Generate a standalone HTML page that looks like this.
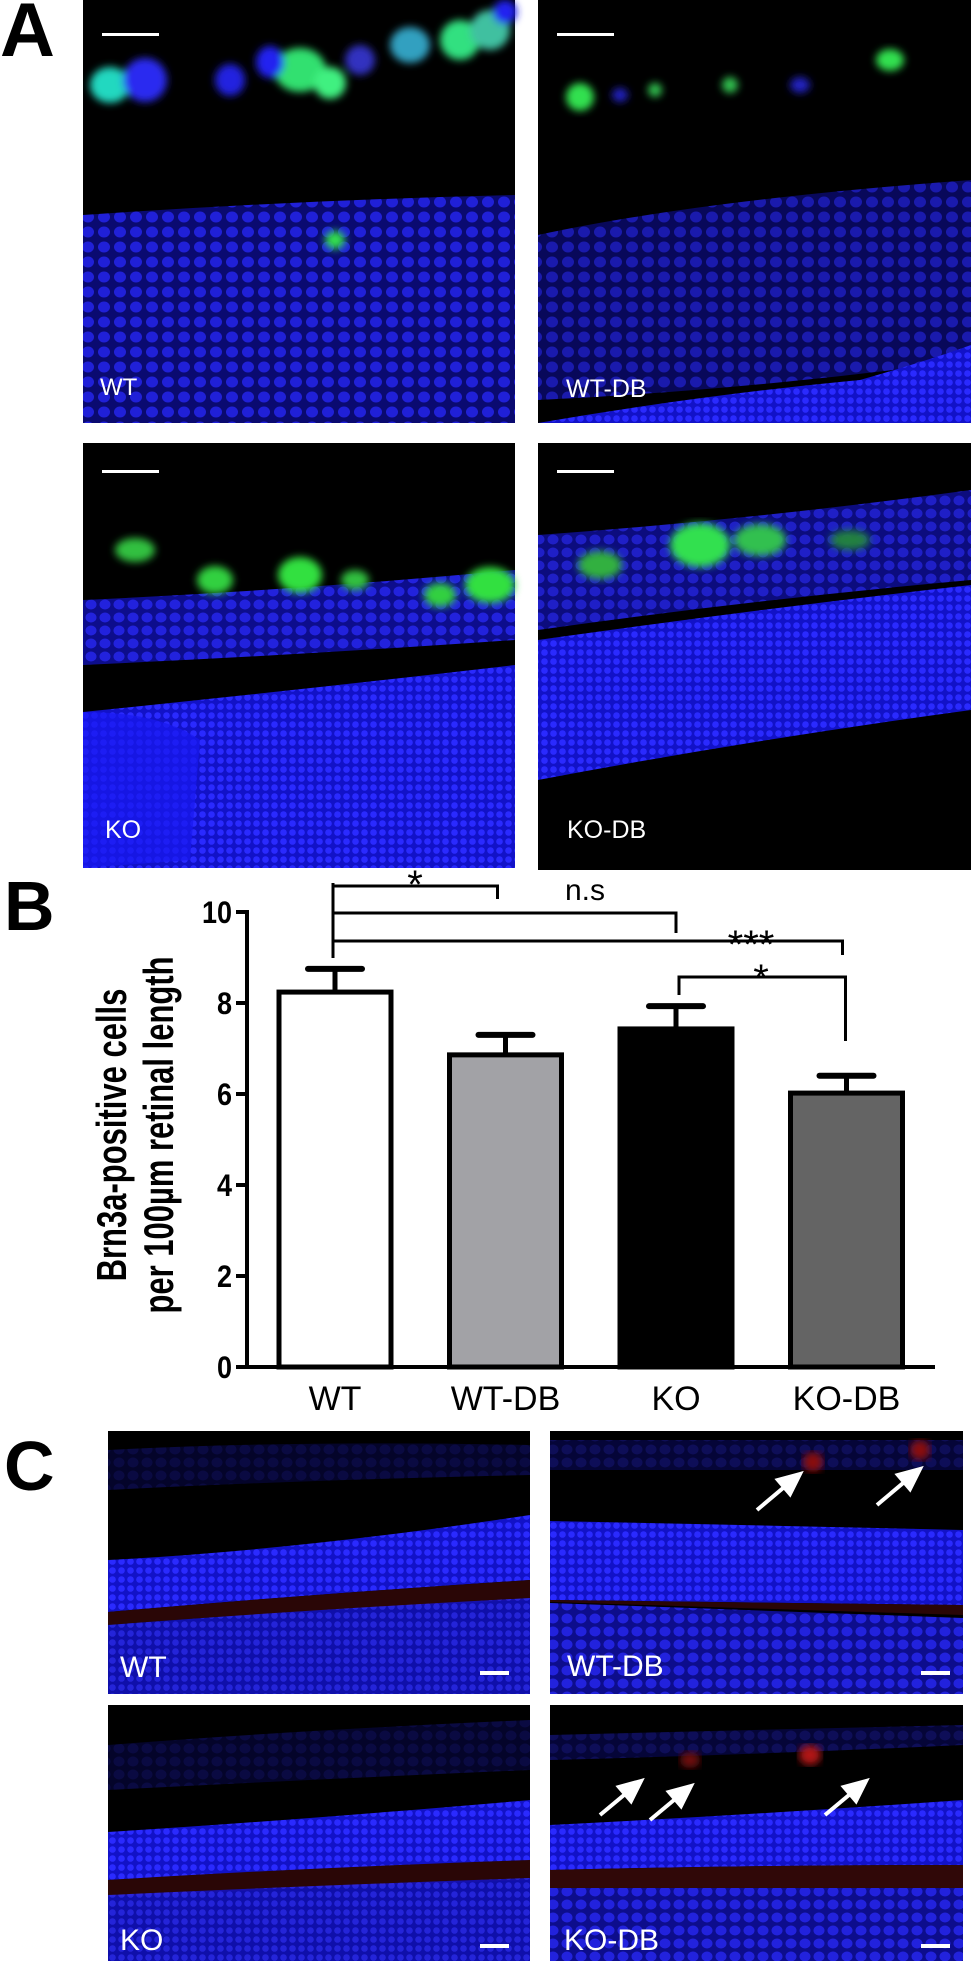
<!DOCTYPE html>
<html><head><meta charset="utf-8"><style>
html,body{margin:0;padding:0;background:#fff;}
svg{display:block;font-family:"Liberation Sans",Arial,sans-serif;}
</style></head><body>
<svg id="fig" width="971" height="1961" viewBox="0 0 971 1961" xmlns="http://www.w3.org/2000/svg">
<defs>
<pattern id="nuc" width="9" height="9" patternUnits="userSpaceOnUse"><rect width="9" height="9" fill="#1212c8"/><circle cx="4.5" cy="4.5" r="3.3" fill="#2a2aff"/></pattern>
<pattern id="nuc2" width="14" height="13" patternUnits="userSpaceOnUse"><rect width="14" height="13" fill="#0d0d8c"/><ellipse cx="7" cy="6.5" rx="5.5" ry="5" fill="#2222dd"/></pattern>
<pattern id="nucA" width="16" height="15" patternUnits="userSpaceOnUse"><rect width="16" height="15" fill="#0a0a70"/><ellipse cx="8" cy="7" rx="6" ry="5.5" fill="#2020d8"/></pattern>
<filter id="blur"><feGaussianBlur stdDeviation="4"/></filter>
</defs>

<text x="0" y="56" font-size="76" font-weight="bold">A</text>
<text x="4" y="930" font-size="70" font-weight="bold">B</text>
<text x="4" y="1490" font-size="70" font-weight="bold">C</text>

<g>
<rect x="83" y="0" width="432" height="423" fill="#000"/>
<path d="M83 215 Q300 200 515 195 L515 423 L83 423 Z" fill="url(#nucA)"/>
<g filter="url(#blur)">
<ellipse cx="110" cy="85" rx="20" ry="18" fill="#20d8c0"/>
<ellipse cx="145" cy="80" rx="22" ry="22" fill="#2a2af0"/>
<ellipse cx="300" cy="70" rx="26" ry="22" fill="#30e070"/>
<ellipse cx="330" cy="83" rx="16" ry="16" fill="#40f080"/>
<ellipse cx="270" cy="62" rx="14" ry="16" fill="#2020f0"/>
<ellipse cx="230" cy="80" rx="15" ry="16" fill="#2020e0"/>
<ellipse cx="360" cy="60" rx="15" ry="15" fill="#3030c0"/>
<ellipse cx="410" cy="45" rx="20" ry="18" fill="#30a0c0"/>
<ellipse cx="460" cy="40" rx="20" ry="20" fill="#30e080"/>
<ellipse cx="490" cy="30" rx="20" ry="20" fill="#40c0a0"/>
<ellipse cx="505" cy="12" rx="12" ry="12" fill="#2020f0"/>
<ellipse cx="335" cy="240" rx="10" ry="9" fill="#30e050"/>
</g>
<rect x="102" y="33" width="57" height="3" fill="#fff"/>
<text x="100" y="395" font-size="24" fill="#fff">WT</text>
</g>

<g>
<rect x="538" y="0" width="433" height="423" fill="#000"/>
<path d="M538 235 Q700 200 971 180 L971 360 Q750 390 538 400 Z" fill="url(#nucA)" opacity="0.8"/>
<path d="M538 423 Q700 395 860 380 Q930 360 971 345 L971 423 Z" fill="url(#nuc)"/>
<g filter="url(#blur)">
<ellipse cx="580" cy="97" rx="14" ry="14" fill="#30e050"/>
<ellipse cx="655" cy="90" rx="7" ry="7" fill="#30c050"/>
<ellipse cx="730" cy="85" rx="8" ry="8" fill="#30c050"/>
<ellipse cx="890" cy="60" rx="14" ry="11" fill="#30e050"/>
<ellipse cx="620" cy="95" rx="8" ry="7" fill="#2020c0"/>
<ellipse cx="800" cy="85" rx="10" ry="8" fill="#2020c0"/>
</g>
<rect x="557" y="33" width="57" height="3" fill="#fff"/>
<text x="566" y="397" font-size="25" fill="#fff">WT-DB</text>
</g>

<g>
<rect x="83" y="443" width="432" height="425" fill="#000"/>
<path d="M83 600 Q300 590 515 570 L515 640 Q300 655 83 665 Z" fill="url(#nuc2)"/>
<path d="M83 712 Q300 690 515 665 L515 868 L83 868 Z" fill="url(#nuc)"/>
<path d="M83 712 Q160 712 200 740 L190 860 L83 868 Z" fill="#1818f0" opacity="0.7"/>
<g filter="url(#blur)">
<ellipse cx="135" cy="550" rx="20" ry="12" fill="#30c040"/>
<ellipse cx="215" cy="580" rx="18" ry="14" fill="#30d040"/>
<ellipse cx="300" cy="575" rx="22" ry="18" fill="#30e040"/>
<ellipse cx="355" cy="580" rx="14" ry="10" fill="#30c040"/>
<ellipse cx="440" cy="595" rx="16" ry="12" fill="#30d040"/>
<ellipse cx="490" cy="585" rx="25" ry="18" fill="#30e040"/>
</g>
<rect x="102" y="470" width="57" height="3" fill="#fff"/>
<text x="105" y="838" font-size="25" fill="#fff">KO</text>
</g>

<g>
<rect x="538" y="443" width="433" height="427" fill="#000"/>
<path d="M538 535 Q750 520 971 490 L971 580 Q750 600 538 630 Z" fill="url(#nuc2)" opacity="0.9"/>
<path d="M538 640 Q750 610 971 585 L971 710 Q750 740 538 780 Z" fill="url(#nuc)"/>
<g filter="url(#blur)">
<ellipse cx="600" cy="565" rx="22" ry="14" fill="#30b040"/>
<ellipse cx="700" cy="545" rx="30" ry="22" fill="#30e050"/>
<ellipse cx="760" cy="540" rx="26" ry="16" fill="#30c050"/>
<ellipse cx="850" cy="540" rx="20" ry="10" fill="#208040"/>
</g>
<rect x="557" y="470" width="57" height="3" fill="#fff"/>
<text x="567" y="838" font-size="25" fill="#fff">KO-DB</text>
</g>

<g id="chart"></g>

<g>
<rect x="108" y="1431" width="422" height="263" fill="#000"/>
<path d="M108 1450 Q300 1440 530 1445 L530 1475 Q300 1480 108 1490 Z" fill="url(#nuc2)" opacity="0.3"/>
<path d="M108 1560 Q300 1550 530 1515 L530 1580 Q300 1595 108 1612 Z" fill="url(#nuc)"/>
<path d="M108 1612 Q300 1595 530 1580 L530 1600 Q300 1610 108 1625 Z" fill="#2a0606"/>
<path d="M108 1625 Q300 1610 530 1598 L530 1694 L108 1694 Z" fill="url(#nuc)" opacity="0.85"/>
<text x="120" y="1677" font-size="30" fill="#fff">WT</text>
<rect x="480" y="1671" width="29" height="4" fill="#fff"/>
</g>
<g>
<rect x="550" y="1431" width="413" height="263" fill="#000"/>
<path d="M550 1440 L963 1440 L963 1470 L550 1470 Z" fill="url(#nuc2)" opacity="0.4"/>
<path d="M550 1521 Q750 1525 963 1530 L963 1605 L550 1600 Z" fill="url(#nuc)"/>
<path d="M550 1600 L963 1605 L963 1615 L550 1602 Z" fill="#2a0606"/>
<path d="M550 1603 Q750 1610 963 1618 L963 1694 L550 1694 Z" fill="url(#nuc2)"/>
<ellipse cx="813" cy="1462" rx="10" ry="10" fill="#8a1010" filter="url(#blur)"/>
<ellipse cx="920" cy="1450" rx="10" ry="10" fill="#8a1010" filter="url(#blur)"/>
<g stroke="#fff" stroke-width="4" fill="#fff">
<line x1="757" y1="1510" x2="795" y2="1478"/><polygon points="800,1474 778,1480 790,1494"/>
<line x1="877" y1="1505" x2="915" y2="1473"/><polygon points="920,1469 898,1475 910,1489"/>
</g>
<text x="567" y="1676" font-size="30" fill="#fff">WT-DB</text>
<rect x="921" y="1671" width="29" height="4" fill="#fff"/>
</g>
<g>
<rect x="108" y="1705" width="422" height="256" fill="#000"/>
<path d="M108 1745 Q300 1730 530 1720 L530 1770 Q300 1780 108 1790 Z" fill="url(#nuc2)" opacity="0.3"/>
<path d="M108 1832 Q300 1820 530 1800 L530 1862 Q300 1870 108 1880 Z" fill="url(#nuc)"/>
<path d="M108 1880 Q300 1868 530 1860 L530 1880 Q300 1888 108 1897 Z" fill="#2a0606"/>
<path d="M108 1895 Q300 1886 530 1878 L530 1961 L108 1961 Z" fill="url(#nuc)" opacity="0.85"/>
<text x="120" y="1950" font-size="30" fill="#fff">KO</text>
<rect x="480" y="1944" width="29" height="4" fill="#fff"/>
</g>
<g>
<rect x="550" y="1705" width="413" height="256" fill="#000"/>
<path d="M550 1735 Q750 1730 963 1725 L963 1745 Q750 1755 550 1760 Z" fill="url(#nuc2)" opacity="0.4"/>
<path d="M550 1825 Q750 1815 963 1800 L963 1865 Q750 1865 550 1870 Z" fill="url(#nuc)"/>
<path d="M550 1870 Q750 1865 963 1865 L963 1890 Q750 1890 550 1890 Z" fill="#300808"/>
<path d="M550 1888 Q750 1888 963 1888 L963 1961 L550 1961 Z" fill="url(#nuc2)"/>
<ellipse cx="810" cy="1755" rx="11" ry="10" fill="#b01818" filter="url(#blur)"/>
<ellipse cx="690" cy="1760" rx="10" ry="8" fill="#701010" filter="url(#blur)"/>
<g stroke="#fff" stroke-width="4" fill="#fff">
<line x1="600" y1="1815" x2="636" y2="1785"/><polygon points="641,1781 619,1787 631,1801"/>
<line x1="650" y1="1820" x2="686" y2="1790"/><polygon points="691,1786 669,1792 681,1806"/>
<line x1="825" y1="1815" x2="861" y2="1785"/><polygon points="866,1781 844,1787 856,1801"/>
</g>
<text x="564" y="1950" font-size="30" fill="#fff">KO-DB</text>
<rect x="921" y="1944" width="29" height="4" fill="#fff"/>
</g>
</svg>
<script>
const categories = ["WT", "WT-DB", "KO", "KO-DB"];
const means = [8.24, 6.86, 7.43, 6.02];
const errors = [0.51, 0.44, 0.50, 0.38];
const yTicks = [0, 2, 4, 6, 8, 10];
const fills = ["#ffffff", "#a2a2a6", "#000000", "#646464"];
const sigLabels = ["*", "n.s", "***", "*"];

const NS = "http://www.w3.org/2000/svg";
const chart = document.getElementById("chart");
const Y0 = 1367, PX = 45.5, AX = 247;
function y(v){ return Y0 - v * PX; }
function xc(i){ return 335 + i * 170.5; }
function mk(tag, attrs, parent){
  const e = document.createElementNS(NS, tag);
  for (const k in attrs) e.setAttribute(k, attrs[k]);
  (parent || chart).appendChild(e);
  return e;
}
let el = mk("line", {x1: AX, y1: y(10) - 2, x2: AX, y2: Y0 + 2, stroke: "#000", "stroke-width": 4});


el = mk("line", {x1: AX - 2, y1: Y0, x2: 935, y2: Y0, stroke: "#000", "stroke-width": 4});


yTicks.forEach(t => {
  const tk = mk("line", {x1: AX - 11, y1: y(t), x2: AX, y2: y(t), stroke: "#000", "stroke-width": 4});
  
  
  const tl = mk("text", {x: 0, y: 0, "font-size": 30, "font-weight": "bold", "text-anchor": "end",
    transform: "translate(" + (AX - 15) + "," + (y(t) + 11) + ") scale(0.9,1.05)"});
  tl.textContent = t;
  
  
});
const yt = mk("text", {x: 0, y: 0, "font-size": 31, "font-weight": "bold", "text-anchor": "middle",
  transform: "translate(126,1135) rotate(-90) scale(1,1.35)"});


const t1 = mk("tspan", {x: 0, dy: 0}, yt); t1.textContent = "Brn3a-positive cells";
const t2 = mk("tspan", {x: 0, dy: 35}, yt); t2.textContent = "per 100\u00b5m retinal length";
const BW = 112;
categories.forEach((c, i) => {
  const b = mk("rect", {x: xc(i) - BW / 2, y: y(means[i]), width: BW, height: Y0 - y(means[i]),
    fill: fills[i], stroke: "#000", "stroke-width": 5});
  
  
  const e1 = mk("line", {x1: xc(i), y1: y(means[i]), x2: xc(i), y2: y(means[i] + errors[i]), stroke: "#000", "stroke-width": 5});
  
  
  const e2 = mk("line", {x1: xc(i) - 27, y1: y(means[i] + errors[i]), x2: xc(i) + 27, y2: y(means[i] + errors[i]), stroke: "#000", "stroke-width": 6, "stroke-linecap": "round"});
  
  
  const xl = mk("text", {x: xc(i), y: 1410, "font-size": 34, "text-anchor": "middle"});
  xl.textContent = c;
  
  
});
const br = [
  {a: 0, b: 1, yl: 886, yend: 899, bx: -8},
  {a: 0, b: 2, yl: 913, yend: 933, bx: 0},
  {a: 0, b: 3, yl: 941, yend: 955, bx: -4},
  {a: 2, b: 3, yl: 977, yend: 1041, bx: -1}
];
const stem = mk("line", {x1: xc(0) - 2, y1: 883, x2: xc(0) - 2, y2: 958, stroke: "#000", "stroke-width": 3});


br.forEach((s, k) => {
  const x1 = k === 3 ? xc(s.a) + 3 : xc(s.a) - 2;
  const x2 = xc(s.b) + s.bx;
  const d = (k === 3 ? "M" + x1 + " 995 L" + x1 + " " + s.yl : "M" + x1 + " " + s.yl) +
    " L" + x2 + " " + s.yl + " L" + x2 + " " + s.yend;
  const p = mk("path", {d: d, fill: "none", stroke: "#000", "stroke-width": 3});
  
  
  const lx = [415, 585, 751, 761][k], ly = [898, 900, 958, 992][k];
  const lt = mk("text", {x: lx, y: ly, "font-size": sigLabels[k] === "n.s" ? 30 : 40, "text-anchor": "middle"});
  lt.textContent = sigLabels[k];
  
  
});
</script>
</body></html>
